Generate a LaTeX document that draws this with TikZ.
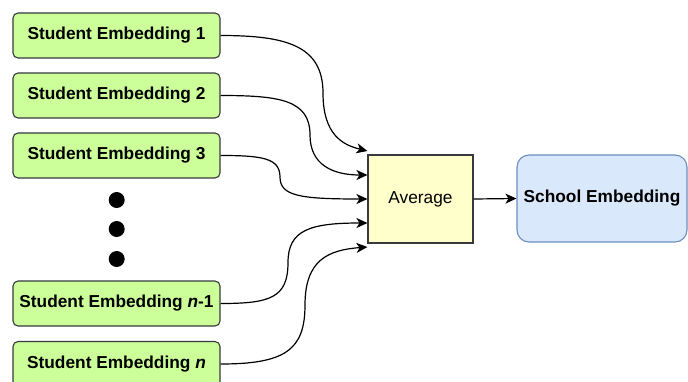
\documentclass[tikz,border=0pt]{standalone}
\usepackage{fontspec}
\setmainfont{Liberation Sans}
\usetikzlibrary{arrows.meta}
\definecolor{stugreen}{HTML}{CCFF99}
\definecolor{avgyellow}{HTML}{FFFFCC}
\definecolor{schoolblue}{HTML}{DAE8FC}
\definecolor{schoolborder}{HTML}{6C8EBF}
\definecolor{darkborder}{HTML}{36393D}
\tikzset{
  stubox/.style={draw=darkborder, fill=stugreen, rounded corners=5pt, line width=1.1pt,
    minimum width=207pt, minimum height=45pt, inner sep=0pt,
    font=\fontsize{17.3}{20}\selectfont\bfseries},
  avgbox/.style={draw=darkborder, fill=avgyellow, line width=1.1pt,
    minimum width=105pt, minimum height=88pt, inner sep=0pt,
    font=\fontsize{17.3}{20}\selectfont},
  schoolbox/.style={draw=schoolborder, fill=schoolblue, rounded corners=12pt, line width=1.1pt,
    minimum width=170pt, minimum height=87pt, inner sep=0pt,
    font=\fontsize{17.3}{20}\selectfont\bfseries},
  conn/.style={line width=1.2pt, -{Stealth[length=11pt,width=10pt,inset=3pt]}},
  dotc/.style={circle, fill=black, minimum size=16pt, inner sep=0pt}
}
\begin{document}
\begin{tikzpicture}[x=1pt,y=-1pt]
\useasboundingbox (0,0) rectangle (688,381);
\begin{scope}
\clip (0,0) rectangle (688,381);
\node[stubox] (s1) at (116.5,35.5) {Student Embedding 1};
\node[stubox] (s2) at (116.5,95.5) {Student Embedding 2};
\node[stubox] (s3) at (116.5,155.5) {Student Embedding 3};
\node[stubox] (sn1) at (116.5,303.5) {Student Embedding \textit{n}-1};
\node[stubox] (sn) at (116.5,364) {Student Embedding \textit{n}};
\node[dotc] (d1) at (116.7,200) {};
\node[dotc] (d2) at (116.7,229) {};
\node[dotc] (d3) at (116.7,259) {};
\node[avgbox] (avg) at (420.5,199) {Average};
\node[schoolbox] (school) at (602,198.5) {School Embedding};

\coordinate (e1) at ([yshift=48pt]avg.west);
\coordinate (e2) at ([yshift=24pt]avg.west);
\coordinate (e3) at (avg.west);
\coordinate (e4) at ([yshift=-24pt]avg.west);
\coordinate (e5) at ([yshift=-48pt]avg.west);

\draw[conn] (s1.east) .. controls (285,35.5) and (323,45) .. (323,93) .. controls (323,135) and (343,145) .. (e1);
\draw[conn] (s2.east) .. controls (280,95.5) and (310,100) .. (310,135) .. controls (310,165) and (333,175) .. (e2);
\draw[conn] (s3.east) .. controls (262,155.5) and (280,158) .. (280,177) .. controls (280,196) and (300,199) .. (e3);
\draw[conn] (sn1.east) .. controls (270,303.5) and (288,298) .. (288,262.5) .. controls (288,230) and (310,223) .. (e4);
\draw[conn] (sn.east) .. controls (285,364) and (305,350) .. (305,305) .. controls (305,260) and (328,250) .. (e5);
\draw[conn] (avg.east) -- (school.west);
\end{scope}
\end{tikzpicture}
\end{document}
